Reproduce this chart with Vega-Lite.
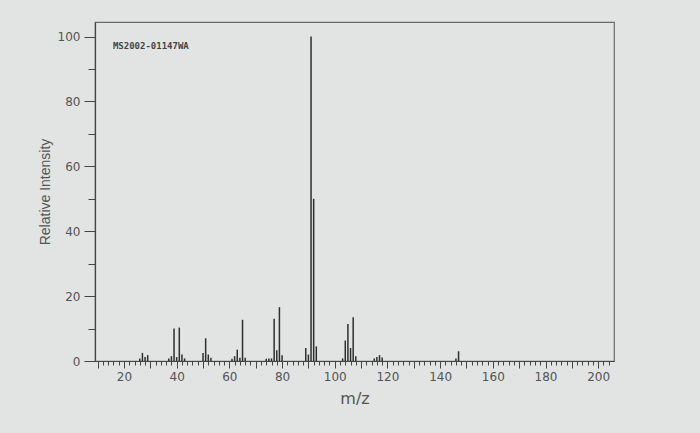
{
  "$schema": "https://vega.github.io/schema/vega-lite/v6.json",
  "autosize": "none",
  "width": 519,
  "height": 339,
  "padding": {"left": 95, "top": 22, "right": 86, "bottom": 72},
  "background": "#e1e4e2",
  "config": {
    "view": {"stroke": "#6a6a6a", "strokeWidth": 1.2},
    "axis": {"domainColor": "#444", "tickColor": "#444", "labelColor": "#555", "titleColor": "#555", "labelFont": "DejaVu Sans", "titleFont": "DejaVu Sans", "grid": false}
  },
  "datasets": {
    "peaks": [
      {"mz": 26, "intensity": 0.8},
      {"mz": 27, "intensity": 2.5},
      {"mz": 28, "intensity": 1.2},
      {"mz": 29, "intensity": 1.8},
      {"mz": 37, "intensity": 0.8},
      {"mz": 38, "intensity": 1.5},
      {"mz": 39, "intensity": 10},
      {"mz": 40, "intensity": 1.2},
      {"mz": 41, "intensity": 10.3},
      {"mz": 42, "intensity": 2},
      {"mz": 43, "intensity": 0.8},
      {"mz": 50, "intensity": 2.5},
      {"mz": 51, "intensity": 7},
      {"mz": 52, "intensity": 2},
      {"mz": 53, "intensity": 1},
      {"mz": 61, "intensity": 0.7},
      {"mz": 62, "intensity": 1.5},
      {"mz": 63, "intensity": 3.5},
      {"mz": 64, "intensity": 1},
      {"mz": 65, "intensity": 12.7},
      {"mz": 66, "intensity": 1},
      {"mz": 74, "intensity": 0.7},
      {"mz": 75, "intensity": 0.8},
      {"mz": 76, "intensity": 0.8},
      {"mz": 77, "intensity": 13},
      {"mz": 78, "intensity": 3.3},
      {"mz": 79, "intensity": 16.6},
      {"mz": 80, "intensity": 1.8},
      {"mz": 89, "intensity": 4},
      {"mz": 90, "intensity": 2},
      {"mz": 91, "intensity": 100},
      {"mz": 92, "intensity": 50},
      {"mz": 93, "intensity": 4.5},
      {"mz": 103, "intensity": 0.8},
      {"mz": 104, "intensity": 6.3},
      {"mz": 105, "intensity": 11.4},
      {"mz": 106, "intensity": 4},
      {"mz": 107, "intensity": 13.5},
      {"mz": 108, "intensity": 1.5},
      {"mz": 115, "intensity": 0.8},
      {"mz": 116, "intensity": 1.2},
      {"mz": 117, "intensity": 1.8},
      {"mz": 118, "intensity": 1.1},
      {"mz": 146, "intensity": 0.8},
      {"mz": 147, "intensity": 3}
    ],
    "label": [{"mz": 15.8, "intensity": 97.2, "text": "MS2002-01147WA"}]
  },
  "resolve": {"axis": {"x": "independent", "y": "independent"}},
  "layer": [
    {
      "data": {"name": "peaks"},
      "mark": {"type": "rule", "color": "#2e2e2e", "strokeWidth": 1.5},
      "encoding": {
        "x": {"field": "mz", "type": "quantitative", "scale": {"domain": [9, 206], "nice": false, "zero": false},
          "axis": {"orient": "bottom", "values": [10, 20, 30, 40, 50, 60, 70, 80, 90, 100, 110, 120, 130, 140, 150, 160, 170, 180, 190, 200], "labelExpr": "datum.value % 20 == 0 ? datum.label : ''", "tickSize": 7, "labelPadding": 3, "labelFontSize": 12, "title": "m/z", "titleFontSize": 16, "titleFontWeight": "normal", "titlePadding": 8, "domainWidth": 1.2}},
        "y": {"field": "intensity", "type": "quantitative", "scale": {"domain": [0, 104.5], "nice": false},
          "axis": {"orient": "left", "values": [0, 20, 40, 60, 80, 100], "tickSize": 11, "labelPadding": 4, "labelFontSize": 12, "title": "Relative Intensity", "titleFont": "Liberation Sans", "titleFontSize": 14, "titleFontWeight": "normal", "titlePadding": 5, "domainWidth": 1.2}},
        "y2": {"datum": 0}
      }
    },
    {
      "data": {"name": "peaks"},
      "mark": {"type": "point", "opacity": 0},
      "encoding": {
        "x": {"field": "mz", "type": "quantitative",
          "axis": {"orient": "bottom", "values": [12, 14, 16, 18, 22, 24, 26, 28, 32, 34, 36, 38, 42, 44, 46, 48, 52, 54, 56, 58, 62, 64, 66, 68, 72, 74, 76, 78, 82, 84, 86, 88, 92, 94, 96, 98, 102, 104, 106, 108, 112, 114, 116, 118, 122, 124, 126, 128, 132, 134, 136, 138, 142, 144, 146, 148, 152, 154, 156, 158, 162, 164, 166, 168, 172, 174, 176, 178, 182, 184, 186, 188, 192, 194, 196, 198, 202, 204], "labels": false, "tickSize": 4, "domain": false, "title": null}},
        "y": {"field": "intensity", "type": "quantitative",
          "axis": {"orient": "left", "values": [10, 30, 50, 70, 90], "labels": false, "tickSize": 7, "domain": false, "title": null}}
      }
    },
    {
      "data": {"name": "label"},
      "mark": {"type": "text", "align": "left", "baseline": "middle", "font": "DejaVu Sans Mono", "fontSize": 9, "fontWeight": "bold", "color": "#444"},
      "encoding": {
        "x": {"field": "mz", "type": "quantitative", "axis": null},
        "y": {"field": "intensity", "type": "quantitative", "axis": null},
        "text": {"field": "text"}
      }
    }
  ]
}
